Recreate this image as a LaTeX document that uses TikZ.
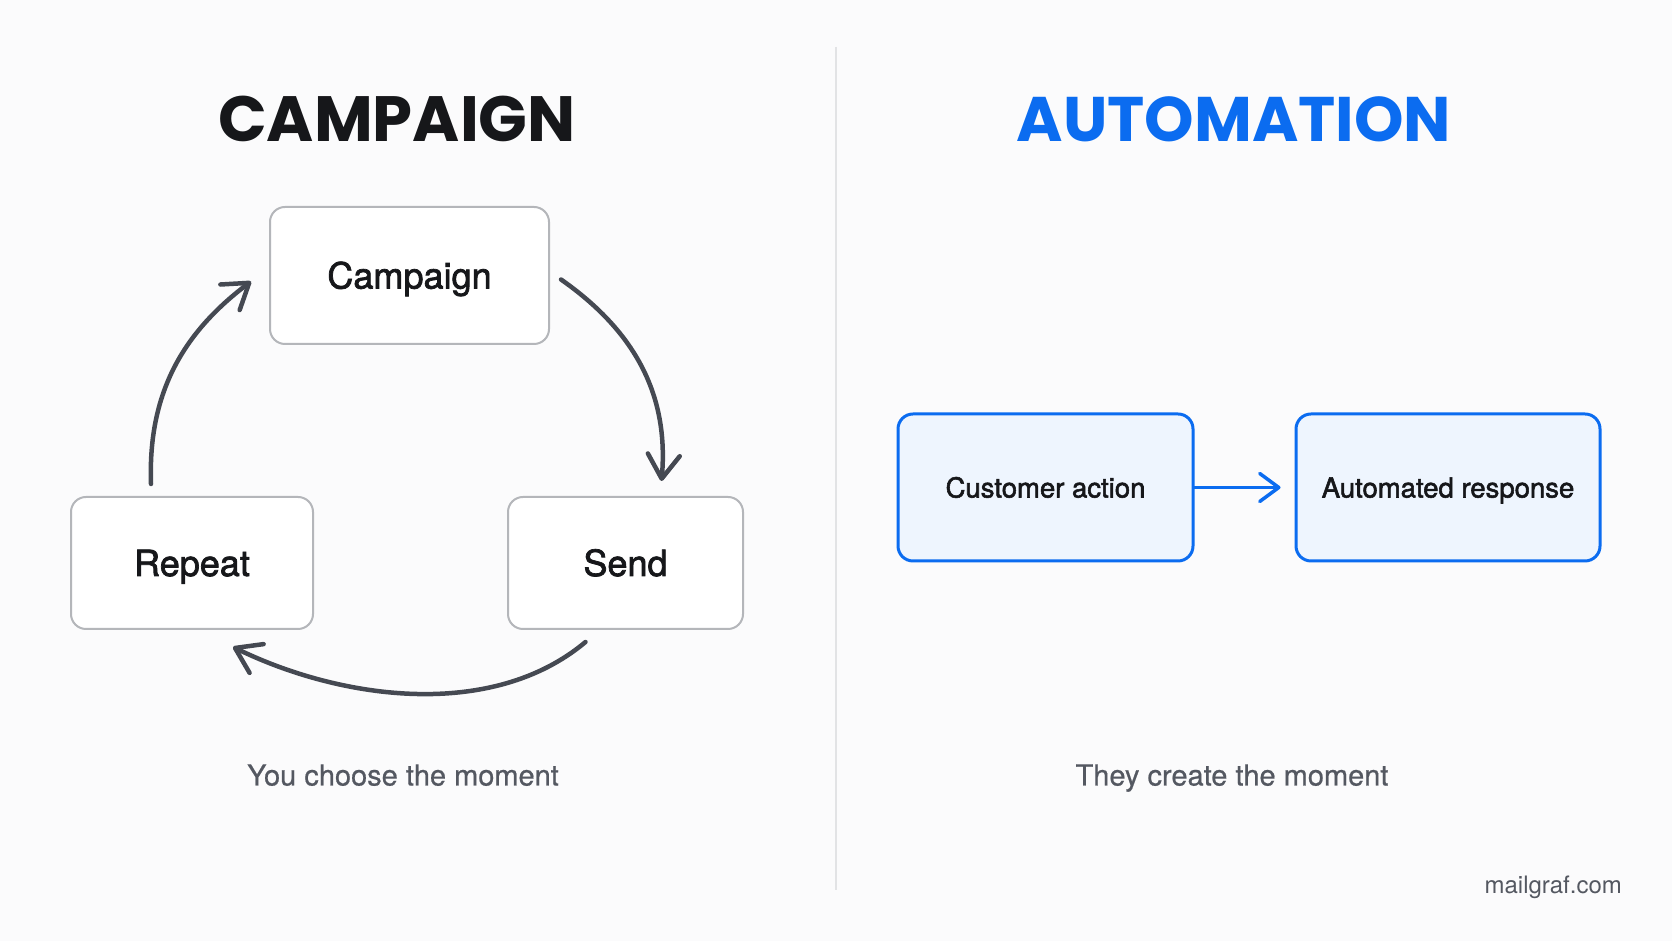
\documentclass[tikz,border=0pt]{standalone}
\usepackage{fontspec}
\setmainfont{TeX Gyre Heros}
\newfontfamily\titlefont{Poppins}
\newfontfamily\medfont[FakeBold=2]{TeX Gyre Heros}
\newfontfamily\subfont[FakeBold=0.6]{TeX Gyre Heros}
\usetikzlibrary{arrows.meta}
\definecolor{bg}{HTML}{FBFBFC}
\definecolor{ink}{HTML}{16171A}
\definecolor{mblue}{HTML}{0B6CF0}
\definecolor{boxgray}{HTML}{B4B6BA}
\definecolor{arrowgray}{HTML}{454952}
\definecolor{subgray}{HTML}{545861}
\definecolor{bluefill}{HTML}{EEF5FE}
\definecolor{divider}{HTML}{E2E3E5}
\tikzset{
  graybox/.style={draw=boxgray, line width=2pt, fill=white, rounded corners=15pt,
    font=\medfont\fontsize{36}{40}\selectfont, text=ink, text height=26pt, text depth=0pt, inner sep=0pt},
  bluebox/.style={draw=mblue, line width=3pt, fill=bluefill, rounded corners=15pt,
    minimum width=295pt, minimum height=147pt,
    font=\medfont\fontsize{27.5}{32}\selectfont, text=ink, text height=20pt, text depth=0pt, inner sep=0pt},
  titletext/.style={font=\titlefont\bfseries\fontsize{64}{70}\selectfont, text height=45pt, text depth=0pt, inner sep=0pt},
  subtext/.style={font=\subfont\fontsize{29}{34}\selectfont, text=subgray, text height=21pt, text depth=0pt, inner sep=0pt},
  darrow/.style={draw=arrowgray, line width=4.5pt, line cap=round,
    -{Straight Barb[length=24pt,width=32pt,round]}},
  barrow/.style={draw=mblue, line width=3.5pt, line cap=round,
    -{Straight Barb[length=19pt,width=28pt,round]}}
}
\begin{document}
\begin{tikzpicture}[x=1pt,y=1pt]
\fill[bg] (0,0) rectangle (1672,941);
\useasboundingbox (0,0) rectangle (1672,941);
% divider
\coordinate (dtop) at (836,894);
\coordinate (dbot) at (836,51);
\draw[divider, line width=1.5pt] (dtop) -- (dbot);
% titles
\node[titletext, text=ink] (t1) at (397,821.5) {CAMPAIGN};
\node[titletext, text=mblue, font=\titlefont\bfseries\fontsize{63}{70}\selectfont] (t2) at (1234,821.5) {AUTOMATION};
% campaign loop
\node[graybox, minimum width=279pt, minimum height=137pt] (camp) at (409.5,665.5) {Campaign};
\node[graybox, minimum width=242pt, minimum height=132pt] (rep) at (192,378) {Repeat};
\node[graybox, minimum width=235pt, minimum height=132pt] (send) at (625.5,378) {Send};
\draw[darrow] ([shift={(11pt,-4pt)}]camp.east) to[out=-35,in=85] ([shift={(36pt,15pt)}]send.north);
\draw[darrow] ([shift={(-40pt,-12pt)}]send.south) to[out=220,in=-26,looseness=0.88] ([shift={(41pt,-17pt)}]rep.south);
\draw[darrow] ([shift={(-41pt,12pt)}]rep.north) to[out=92,in=-143] ([shift={(-18pt,-6pt)}]camp.west);
% automation
\node[bluebox] (cust) at (1045.5,453.5) {Customer action};
\node[bluebox, minimum width=304pt] (auto) at (1448,453.5) {Automated response};
\draw[barrow] (cust.east) -- ([xshift=-14pt]auto.west);
% subtitles
\node[subtext] (s1) at (403,166) {You choose the moment};
\node[subtext] (s2) at (1232,166) {They create the moment};
\node[font=\fontsize{24}{28}\selectfont, text=subgray, anchor=base east, inner sep=0pt] (brand) at (1622,47) {mailgraf.com};
\end{tikzpicture}
\end{document}
